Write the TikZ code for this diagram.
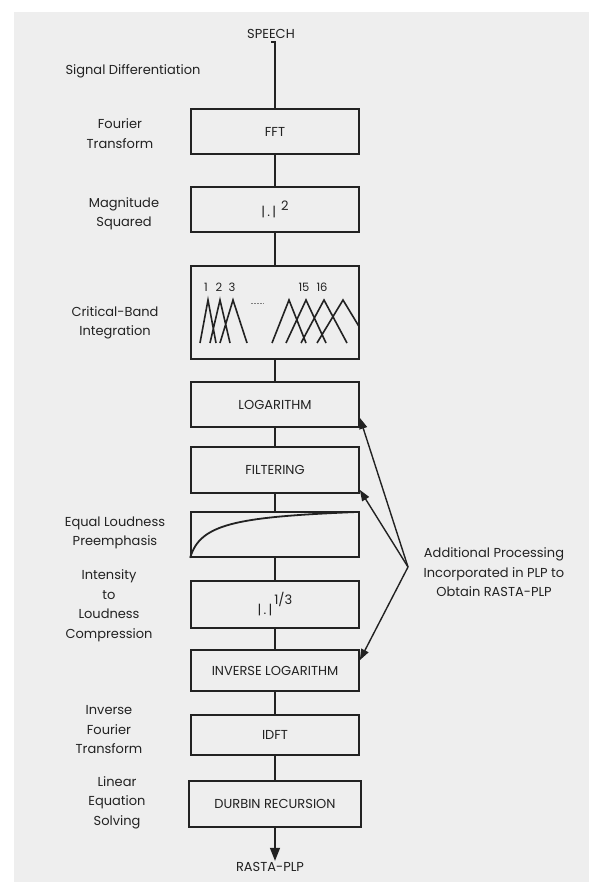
\documentclass[tikz,border=0pt]{standalone}
\usepackage{fontspec}
\setmainfont{Poppins}
\usepackage{tikz}
\usetikzlibrary{arrows.meta,positioning,calc}
\definecolor{scangray}{HTML}{EEEEEE}
\definecolor{inkgray}{HTML}{222222}
\tikzset{
  stage/.style={draw=inkgray, line width=1.7pt, minimum width=168pt, minimum height=45pt, inner sep=0pt, text=inkgray, font=\fontsize{13}{15}\selectfont},
  sidelabel/.style={align=center, text=inkgray, font=\fontsize{13}{19.5}\selectfont},
  bandno/.style={text=inkgray, inner sep=0pt, font=\fontsize{11.5}{12}\selectfont},
  link/.style={draw=inkgray, line width=1.7pt},
  arrow/.style={-{Triangle[length=11pt,width=8pt]}, draw=inkgray, line width=1.4pt},
  band/.style={draw=inkgray, line width=1.6pt}
}

\begin{document}
\begin{tikzpicture}[x=1pt, y=-1pt]
  \useasboundingbox (0,0) rectangle (589,882);
  \fill[scangray] (14,12) rectangle (589,882);

  % processing chain
  \node[sidelabel] (speech) at (271,34) {SPEECH};
  \node[stage] (fft) at (275,131.5) {FFT};
  \node[stage] (mag) at (275,209.5) {|\,.\,|\hspace{5pt}\raisebox{6pt}{2}};
  \node[stage, minimum height=93pt] (crit) at (275,312.5) {};
  \node[stage] (log) at (275,404.5) {LOGARITHM};
  \node[stage, minimum height=46pt] (filt) at (275,470) {FILTERING};
  \node[stage] (equal) at (275,534.5) {};
  \node[stage, minimum height=47pt] (cube) at (275,604.5) {|\,.\,|\hspace{2pt}\raisebox{10pt}{1/3}};
  \node[stage, minimum height=41pt] (invlog) at (275,670.5) {INVERSE LOGARITHM};
  \node[stage, minimum height=40pt] (idft) at (275,735) {IDFT};
  \node[stage, minimum height=46pt, minimum width=172pt] (durbin) at (275,804) {DURBIN RECURSION\hspace{12pt}};
  \node[sidelabel] (rasta) at (270,867) {RASTA-PLP};

  % labels on the left
  \node[sidelabel] (sigdiff) at (133,71) {Signal Differentiation};
  \node[sidelabel] (fourier) at (120,133.5) {Fourier\\Transform};
  \node[sidelabel] (magsq) at (124,213.5) {Magnitude\\Squared};
  \node[sidelabel] (critlab) at (115,323) {Critical-Band\\Integration};
  \node[sidelabel] (eqlab) at (115,533) {Equal Loudness\\Preemphasis};
  \node[sidelabel] (intens) at (109,605.5) {Intensity\\to\\Loudness\\Compression};
  \node[sidelabel] (ifourier) at (109,730) {Inverse\\Fourier\\Transform};
  \node[sidelabel] (linear) at (117,802.5) {Linear\\Equation\\Solving};

  % note on the right
  \node[sidelabel] (note) at (494,572.5) {Additional Processing\\Incorporated in PLP to\\Obtain RASTA-PLP};
  \coordinate (apex) at (408,567);

  % critical band filters
  \node[bandno] (b1) at (206,287) {1};
  \node[bandno] (b2) at (219,287) {2};
  \node[bandno] (b3) at (232,287) {3};
  \node[bandno] (b15) at (304,287) {15};
  \node[bandno] (b16) at (322,287) {16};
  \begin{scope}
    \clip (crit.south west) rectangle (crit.north east);
    \draw[band] (200,343) -- (208,300) -- (216,343)
                (210,343) -- (220,300) -- (230,343)
                (220,343) -- (233,300) -- (247,343);
    \draw[band] (272,343) -- (289,300) -- (306,343)
                (286,343) -- (306,300) -- (326,343)
                (301,343) -- (324,300) -- (347,343)
                (317,343) -- (343,300) -- (369,343);
  \end{scope}
  \draw[gray, line width=0.7pt, dash pattern=on 2pt off 1pt] (251,303) -- (264,303);

  % loudness curve
  \draw[band, line width=1.8pt] (equal.south west) .. controls (200,524) and (235,517) .. (356,512);

  % connectors
  \draw[link] (speech.south) -- (fft.north |- speech.south) -- (fft.north);
  \draw[link] (fft) -- (mag);
  \draw[link] (mag) -- (crit);
  \draw[link] (crit) -- (log);
  \draw[link] (log) -- (filt);
  \draw[link] (filt) -- (equal);
  \draw[link] (equal) -- (cube);
  \draw[link] (cube) -- (invlog);
  \draw[link] (invlog) -- (idft);
  \draw[link] (idft) -- (durbin);
  \draw[arrow, -{Triangle[length=13pt,width=10pt]}] (durbin) -- ([yshift=-2pt]durbin.south |- rasta.north);

  \draw[arrow] (apex) -- ([yshift=10pt]log.south east);
  \draw[arrow] (apex) -- ([yshift=4pt]filt.south east);
  \draw[arrow] (apex) -- ([yshift=-11pt]invlog.north east);
\end{tikzpicture}
\end{document}
